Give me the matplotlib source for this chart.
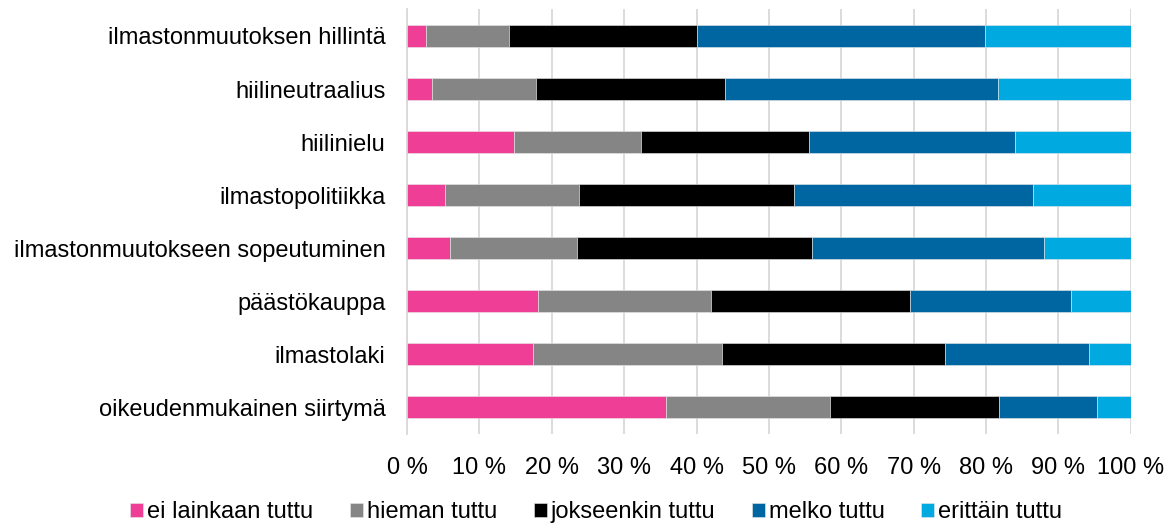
import matplotlib
matplotlib.use("Agg")
import matplotlib.pyplot as plt
import numpy as np

plt.rcParams['font.family'] = ['Liberation Sans', 'DejaVu Sans']

categories = ["ilmastonmuutoksen hillintä", "hiilineutraalius", "hiilinielu",
              "ilmastopolitiikka", "ilmastonmuutokseen sopeutuminen", "päästökauppa",
              "ilmastolaki", "oikeudenmukainen siirtymä"]
series_names = ["ei lainkaan tuttu", "hieman tuttu", "jokseenkin tuttu", "melko tuttu", "erittäin tuttu"]
ei_lainkaan = [2.6, 3.5, 14.8, 5.2, 5.9, 18.1, 17.4, 35.8]
hieman = [11.5, 14.3, 17.5, 18.6, 17.6, 23.9, 26.1, 22.6]
jokseenkin = [26.0, 26.1, 23.2, 29.7, 32.4, 27.5, 30.8, 23.4]
melko = [39.7, 37.7, 28.5, 33.0, 32.1, 22.2, 19.9, 13.6]
erittain = [20.2, 18.4, 16.0, 13.5, 12.0, 8.3, 5.8, 4.6]
colors = ["#EE3E96", "#858585", "#000000", "#0066A1", "#00A9E0"]
xticks = [0, 10, 20, 30, 40, 50, 60, 70, 80, 90, 100]

FS = 17
fig = plt.figure(figsize=(11.73, 5.24), dpi=100)
ax = fig.add_axes([0.347, 0.172, 0.617, 0.81])

data = [ei_lainkaan, hieman, jokseenkin, melko, erittain]
n = len(categories)
y = np.arange(n)[::-1]
left = np.zeros(n)
for name, vals, c in zip(series_names, data, colors):
    vals = np.array(vals)
    ax.barh(y, vals, left=left, height=0.415, color=c, label=name,
            edgecolor="#e8e8e8", linewidth=0.4, zorder=3)
    left += vals

ax.set_xlim(0, 100)
ax.set_ylim(-0.5, n - 0.5)
ax.set_yticks(y)
ax.set_yticklabels(categories, fontsize=FS, color="#000000")
ax.set_xticks(xticks)
ax.set_xticklabels([f"{t} %" for t in xticks], fontsize=FS)
ax.tick_params(axis='both', length=0)
ax.tick_params(axis='x', pad=17)
ax.tick_params(axis='y', pad=15.5)
ax.grid(axis='x', color="#d9d9d9", linewidth=1.3, zorder=0)
for s in ["top", "right", "bottom"]:
    ax.spines[s].set_visible(False)
ax.spines["left"].set_color("#d9d9d9")
ax.spines["left"].set_linewidth(1.3)

fig.legend(loc="center left", bbox_to_anchor=(130 / 1173, 0.022), ncol=5, frameon=False,
           fontsize=FS, handlelength=0.55, handleheight=0.55, handletextpad=0.17,
           columnspacing=1.55, borderpad=0, borderaxespad=0)

fig.savefig("out.png", dpi=100)
